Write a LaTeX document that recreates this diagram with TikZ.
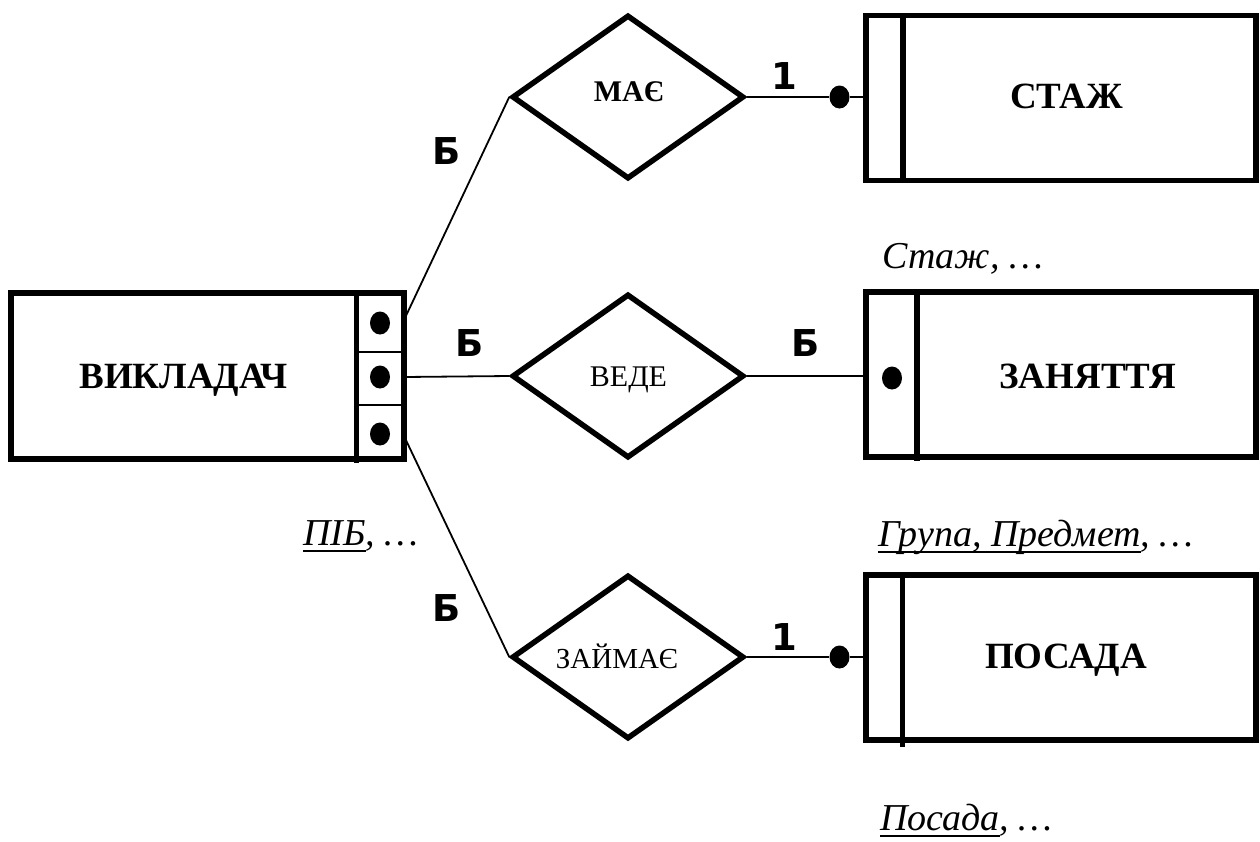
\documentclass[tikz,border=0pt]{standalone}
\usepackage{fontspec}
\setmainfont{Liberation Serif}
\newfontfamily\cardfont{DejaVu Sans}
\usetikzlibrary{shapes.geometric}
\newcommand\myul[1]{\setbox0\hbox{#1}\rlap{\rule[-7pt]{\wd0}{2.4pt}}\box0}
\begin{document}
\begin{tikzpicture}[x=1pt,y=-1pt,
  entity/.style={draw, line width=5.5pt, rectangle, inner sep=0pt, minimum width=390pt, minimum height=165pt},
  rel/.style={draw, line width=5.5pt, diamond, inner sep=0pt, minimum width=232pt, minimum height=164pt},
  reltext/.style={inner sep=0pt, anchor=base, font=\fontsize{30}{32}\selectfont},
  divider/.style={line width=5.5pt},
  thin/.style={line width=2pt},
  conn/.style={line width=1.8pt},
  dot/.style={ellipse, fill=black, draw=none, inner sep=0pt, minimum width=20pt, minimum height=23pt},
  title/.style={font=\fontsize{37}{40}\selectfont\bfseries, inner sep=0pt, anchor=base},
  attr/.style={font=\fontsize{38}{40}\selectfont\itshape, inner sep=0pt, anchor=base west},
  card/.style={font=\fontsize{37}{40}\selectfont\cardfont\bfseries, inner sep=0pt}
]
\useasboundingbox (0,0) rectangle (1260,841);

% entities
\node[entity, minimum width=393pt, minimum height=166pt] (vik) at (207.5,376) {};
\node[entity] (stazh) at (1061,98) {};
\node[entity] (zan) at (1061,374.5) {};
\node[entity] (pos) at (1061,657.5) {};

% dividers and compartments
\draw[divider] (356.5,290) -- (356.5,463);
\draw[thin] (356.5,352) -- (404,352);
\draw[thin] (356.5,405) -- (404,405);
\draw[divider] (903,13) -- (903,183);
\draw[divider] (917,289) -- (917,461);
\draw[divider] (902.5,573) -- (902.5,747);

% relationships
\node[rel] (mae) at (628,97) {};
\node[rel] (vede) at (628,376) {};
\node[rel] (zaim) at (628,657) {};
\node[reltext, font=\fontsize{30}{32}\selectfont\bfseries] (maeT) at (629,101) {МАЄ};
\node[reltext] (vedeT) at (628.5,386) {ВЕДЕ};
\node[reltext, font=\fontsize{29}{32}\selectfont] (zaimT) at (617,668) {ЗАЙМАЄ};

% entity titles
\node[title] (vikT) at (183.5,388) {ВИКЛАДАЧ};
\node[title] (stazhT) at (1066.5,108) {СТАЖ};
\node[title] (zanT) at (1087.5,388) {ЗАНЯТТЯ};
\node[title] (posT) at (1066,668) {ПОСАДА};

% dots
\node[dot] (v1) at (380,323) {};
\node[dot] (v2) at (380,377) {};
\node[dot] (v3) at (380,434) {};
\node[dot] (z1) at (892,378) {};
\node[dot] (d1) at (839.5,97) {};
\node[dot] (d2) at (839.5,657) {};

% connectors
\coordinate (c1) at (404,320);
\coordinate (c2) at (404,377);
\coordinate (c3) at (404,436);
\draw[conn] (c1) -- (mae.west);
\draw[conn] (c2) -- (vede.west);
\draw[conn] (c3) -- (zaim.west);
\draw[conn] (mae.east) -- (d1.west);
\draw[conn] (d1.east) -- (stazh.west |- d1);
\draw[conn] (vede.east) -- (zan.west |- vede);
\draw[conn] (zaim.east) -- (d2.west);
\draw[conn] (d2.east) -- (pos.west |- d2);

% cardinalities
\node[card] (b1) at (447,151) {Б};
\node[card] (b2) at (470,343) {Б};
\node[card] (b3) at (806,343) {Б};
\node[card] (b4) at (447,608) {Б};
\node[card] (n1) at (784,76) {1};
\node[card] (n2) at (784,637) {1};

% attributes
\node[attr] (aStazh) at (882,268) {Стаж, …};
\node[attr] (aZan) at (878,546) {\myul{Група, Предмет}, …};
\node[attr] (aVik) at (303,545) {\myul{ПІБ}, …};
\node[attr] (aPos) at (880,830) {\myul{Посада}, …};
\end{tikzpicture}
\end{document}
